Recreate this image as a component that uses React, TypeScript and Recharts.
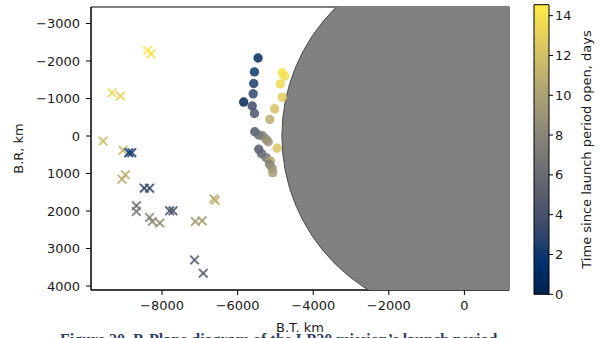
import React from 'react';
import {
  ScatterChart,
  ComposedChart,
  Scatter,
  XAxis,
  YAxis,
  ReferenceArea,
  Label
} from 'recharts';

const FONT = '"DejaVu Sans", sans-serif';

// axis ticks
const btTicks = [-8000, -6000, -4000, -2000, 0];
const brTicks = [-3000, -2000, -1000, 0, 1000, 2000, 3000, 4000];
const dayTicks = [0, 2, 4, 6, 8, 10, 12, 14];

const BT_DOMAIN = [-9880, 1180];
const BR_DOMAIN = [-3440, 4106];
const DAYS_MAX = 14.55;

// round markers
const dotBT = [-5460, -5555, -5575, -5590, -5840, -5615, -5555, -4820, -4755, -4870, -4820, -5020, -5150,
  -5548, -5442, -5336, -5246, -5193, -4955, -5442, -5370, -5246, -5132, -5159, -5087, -5071];
const dotBR = [-2080, -1710, -1400, -1125, -905, -800, -600, -1685, -1595, -1390, -1035, -725, -440,
  -114, -27, 0, 88, 152, 327, 354, 471, 577, 665, 753, 859, 976];
const dotDays = [0.8, 2.0, 2.4, 3.0, 0.6, 3.4, 4.2, 14.3, 13.8, 13.6, 12.8, 12.0, 10.8,
  4.6, 6.0, 7.2, 8.4, 9.0, 12.4, 4.6, 5.6, 6.6, 10.4, 7.6, 8.6, 9.6];

// cross markers
const crossBT = [-8380, -8290, -9320, -9100, -9560, -9030, -8880, -8800, -8970, -9060, -8470, -8330,
  -8680, -8680, -7800, -7710, -8330, -8260, -8060, -7120, -6940, -6630, -6590, -7140, -6910];
const crossBR = [-2280, -2190, -1150, -1065, 135, 380, 445, 445, 1035, 1150, 1390, 1390,
  1860, 2010, 1995, 1995, 2170, 2280, 2320, 2280, 2260, 1670, 1720, 3305, 3660];
const crossDays = [14.2, 14.0, 13.4, 13.0, 11.8, 11.4, 1.8, 2.4, 11.0, 10.8, 3.0, 3.2,
  6.4, 6.8, 4.0, 4.2, 8.0, 8.4, 8.8, 9.6, 9.8, 10.8, 11.0, 5.0, 5.2];

// planet disc in the B-plane
const planet = [{ bt: 0, br: 0 }];
const PLANET_RADIUS = 4830;

const cividis = ['#00204D', '#00336F', '#39486B', '#575C6D', '#707173',
  '#8A8779', '#A69D75', '#C4B56C', '#E4CF5B', '#FFEA46'];

const hexToRgb = (h: string) => [1, 3, 5].map((i) => parseInt(h.slice(i, i + 2), 16));

const dayColor = (days: number) => {
  const u = Math.max(0, Math.min(1, days / DAYS_MAX)) * (cividis.length - 1);
  const i = Math.min(Math.floor(u), cividis.length - 2);
  const f = u - i;
  const a = hexToRgb(cividis[i]);
  const b = hexToRgb(cividis[i + 1]);
  const c = a.map((v, k) => Math.round(v + (b[k] - v) * f));
  return `rgb(${c[0]},${c[1]},${c[2]})`;
};

const dots = dotBT.map((bt, i) => ({ bt, br: dotBR[i], days: dotDays[i] }));
const crosses = crossBT.map((bt, i) => ({ bt, br: crossBR[i], days: crossDays[i] }));

const fmt = (v: number) => (v < 0 ? `\u2212${Math.abs(v)}` : `${v}`);

// layout of the main plot
const CHART_W = 520;
const CHART_H = 338;
const MARGIN = { top: 7, right: 11, bottom: 0, left: 0 };
const Y_AXIS_W = 91;
const X_AXIS_H = 48;
const PLOT_X = MARGIN.left + Y_AXIS_W;
const PLOT_Y = MARGIN.top;
const PLOT_W = CHART_W - MARGIN.left - MARGIN.right - Y_AXIS_W;
const PLOT_H = CHART_H - MARGIN.top - MARGIN.bottom - X_AXIS_H;

const PlanetShape = (props: any) => {
  const rx = (PLANET_RADIUS * PLOT_W) / (BT_DOMAIN[1] - BT_DOMAIN[0]);
  const ry = (PLANET_RADIUS * PLOT_H) / (BR_DOMAIN[1] - BR_DOMAIN[0]);
  return (
    <ellipse
      cx={props.cx}
      cy={props.cy}
      rx={rx}
      ry={ry}
      fill="#808080"
      stroke="#4d4d4d"
      strokeWidth={1}
      clipPath="url(#plotClip)"
    />
  );
};

const DotShape = (props: any) => (
  <circle cx={props.cx} cy={props.cy} r={4.7} fill={dayColor(props.payload.days)} fillOpacity={0.85} />
);

const CrossShape = (props: any) => {
  const { cx, cy } = props;
  const s = 4.3;
  const c = dayColor(props.payload.days);
  return (
    <g stroke={c} strokeWidth={2} strokeOpacity={0.85}>
      <line x1={cx - s} y1={cy - s} x2={cx + s} y2={cy + s} />
      <line x1={cx - s} y1={cy + s} x2={cx + s} y2={cy - s} />
    </g>
  );
};

const tickStyle = { fontSize: 13, fill: '#1a1a1a', fontFamily: FONT };

export default function App() {
  return (
    <div style={{ position: 'absolute', left: 0, top: 0, width: 601, height: 338, overflow: 'hidden', background: '#fff' }}>
      <div style={{ position: 'absolute', left: 0, top: 0 }}>
        <ScatterChart width={CHART_W} height={CHART_H} margin={MARGIN}>
          <defs>
            <clipPath id="plotClip">
              <rect x={PLOT_X} y={PLOT_Y} width={PLOT_W} height={PLOT_H} />
            </clipPath>
          </defs>
          <XAxis
            type="number"
            dataKey="bt"
            domain={BT_DOMAIN}
            allowDataOverflow
            ticks={btTicks}
            tickFormatter={fmt}
            height={X_AXIS_H}
            tickSize={5}
            tickMargin={6}
            tick={tickStyle}
            stroke="#000"
          >
            <Label value="B.T. km" position="insideBottom" offset={6.5} style={{ fontSize: 13, fill: '#1a1a1a', fontFamily: FONT }} />
          </XAxis>
          <YAxis
            type="number"
            dataKey="br"
            reversed
            domain={BR_DOMAIN}
            allowDataOverflow
            ticks={brTicks}
            tickFormatter={fmt}
            width={Y_AXIS_W}
            tickSize={5}
            tickMargin={6}
            tick={tickStyle}
            stroke="#000"
          >
            <Label
              value="B.R, km"
              angle={-90}
              position="insideLeft"
              offset={18}
              style={{ fontSize: 13, fill: '#1a1a1a', fontFamily: FONT, textAnchor: 'middle' }}
            />
          </YAxis>
          <Scatter data={planet} shape={PlanetShape} isAnimationActive={false} />
          <Scatter data={crosses} shape={CrossShape} isAnimationActive={false} />
          <Scatter data={dots} shape={DotShape} isAnimationActive={false} />
          <ReferenceArea
            x1={BT_DOMAIN[0]}
            x2={BT_DOMAIN[1]}
            y1={BR_DOMAIN[0]}
            y2={BR_DOMAIN[1]}
            fill="none"
            stroke="#000"
            strokeWidth={1}
            ifOverflow="visible"
          />
        </ScatterChart>
      </div>

      {/* colour bar */}
      <div style={{ position: 'absolute', left: 500, top: 0 }}>
        <ComposedChart width={101} height={338} data={[{ x: 0 }, { x: 1 }]} margin={{ top: 4.7, right: 0, bottom: 43.7, left: 34 }}>
          <defs>
            <linearGradient id="cividisBar" x1="0" y1="1" x2="0" y2="0">
              {cividis.map((c, i) => (
                <stop key={c} offset={`${(i / (cividis.length - 1)) * 100}%`} stopColor={c} />
              ))}
            </linearGradient>
          </defs>
          <XAxis type="number" dataKey="x" domain={[0, 1]} hide />
          <YAxis
            type="number"
            orientation="right"
            domain={[0, DAYS_MAX]}
            allowDataOverflow
            ticks={dayTicks}
            width={52}
            tickSize={4}
            tickMargin={2}
            tick={tickStyle}
            axisLine={false}
            stroke="#000"
          >
            <Label
              value="Time since launch period open, days"
              angle={-90}
              position="insideRight"
              offset={15}
              style={{ fontSize: 13, fill: '#1a1a1a', fontFamily: FONT, textAnchor: 'middle' }}
            />
          </YAxis>
          <ReferenceArea
            x1={0}
            x2={1}
            y1={0}
            y2={DAYS_MAX}
            fill="url(#cividisBar)"
            fillOpacity={1}
            stroke="#000"
            strokeWidth={1}
            ifOverflow="visible"
          />
        </ComposedChart>
      </div>

      <div
        style={{
          position: 'absolute',
          left: 60,
          top: 332,
          whiteSpace: 'nowrap',
          fontFamily: '"Liberation Serif", serif',
          fontWeight: 'bold',
          fontSize: 16,
          lineHeight: '16px',
          color: '#2f3f66'
        }}
      >
        Figure 20. B-Plane diagram of the LP20 mission’s launch period
      </div>
    </div>
  );
}
